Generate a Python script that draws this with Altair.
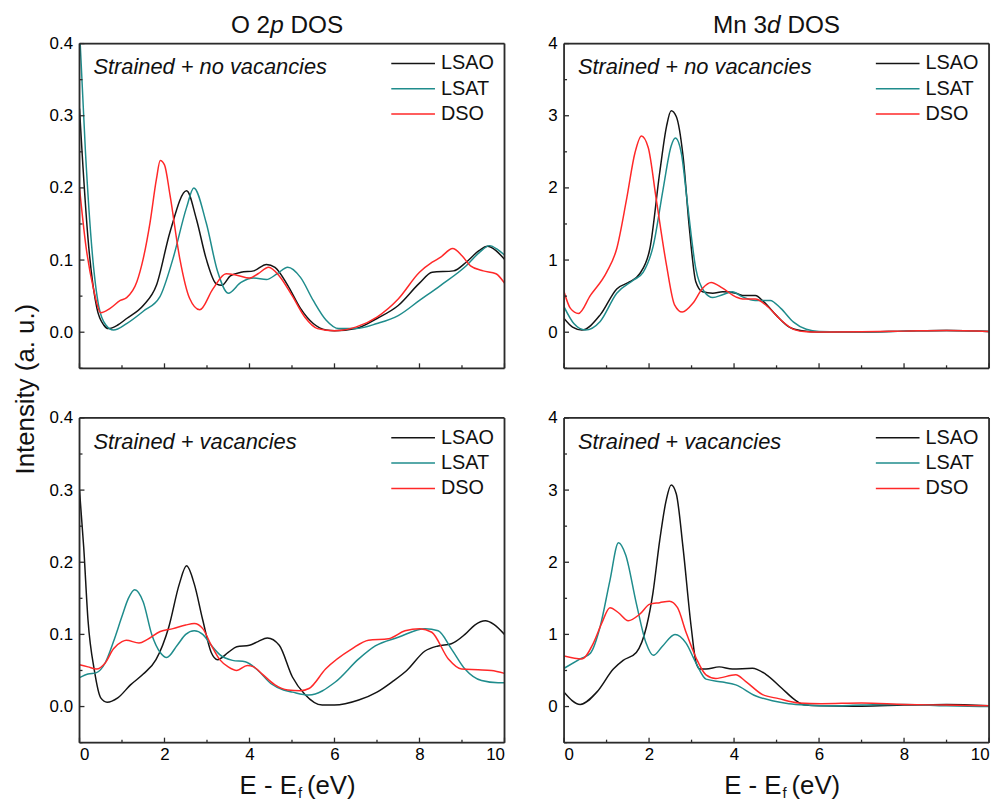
import altair as alt
import pandas as pd

SERIES = ["LSAO", "LSAT", "DSO"]
COLORS = ["#141414", "#1f8c8c", "#ff2828"]
FRAME = "#2b2b2b"
FONT = "Liberation Sans"

# ---------------- O 2p DOS, strained + no vacancies ----------------
o_nv_lsao_x = [0, 0.06, 0.2, 0.41, 0.57, 0.68, 0.9, 1.11, 1.5, 1.81, 2.13, 2.52, 2.75, 2.98, 3.22, 3.35,
               3.55, 3.8, 4.1, 4.4, 4.6, 4.9, 5.2, 5.5, 5.8, 6.0, 6.5, 7.0, 7.5, 8.0, 8.3, 8.8, 9.1, 9.4,
               9.6, 9.8, 10]
o_nv_lsao_y = [0.31, 0.25, 0.13, 0.033, 0.01, 0.005, 0.01, 0.019, 0.037, 0.065, 0.139, 0.196, 0.157, 0.102,
               0.067, 0.065, 0.078, 0.083, 0.085, 0.094, 0.09, 0.065, 0.033, 0.012, 0.003, 0.002, 0.005, 0.019,
               0.037, 0.068, 0.083, 0.085, 0.097, 0.113, 0.119, 0.113, 0.101]
o_nv_lsat_x = [0, 0.14, 0.3, 0.45, 0.62, 0.8, 1.11, 1.5, 1.89, 2.2, 2.52, 2.69, 2.98, 3.25, 3.5, 3.8, 4.1,
               4.4, 4.65, 4.9, 5.2, 5.5, 5.8, 6.1, 6.5, 7.0, 7.5, 8.0, 8.5, 9.1, 9.4, 9.65, 9.85, 10]
o_nv_lsat_y = [0.42, 0.25, 0.11, 0.037, 0.01, 0.003, 0.012, 0.029, 0.049, 0.102, 0.173, 0.2, 0.152, 0.084,
               0.054, 0.069, 0.075, 0.073, 0.081, 0.09, 0.076, 0.044, 0.017, 0.005, 0.005, 0.012, 0.023,
               0.044, 0.065, 0.092, 0.11, 0.12, 0.114, 0.107]
o_nv_dso_x = [0, 0.15, 0.33, 0.5, 0.72, 0.96, 1.11, 1.35, 1.5, 1.66, 1.81, 1.9, 2.0, 2.13, 2.36, 2.59, 2.83,
              3.14, 3.45, 3.7, 4.0, 4.2, 4.45, 4.7, 5.0, 5.3, 5.6, 6.0, 6.5, 7.0, 7.5, 8.0, 8.3, 8.5, 8.78,
              9.0, 9.2, 9.5, 9.8, 10]
o_nv_dso_y = [0.2, 0.12, 0.06, 0.027, 0.033, 0.044, 0.048, 0.07, 0.102, 0.152, 0.212, 0.238, 0.232, 0.19,
              0.102, 0.047, 0.031, 0.06, 0.081, 0.079, 0.075, 0.081, 0.09, 0.078, 0.051, 0.021, 0.005, 0.002,
              0.007, 0.021, 0.046, 0.083, 0.097, 0.104, 0.116, 0.106, 0.092, 0.085, 0.081, 0.068]

# ---------------- Mn 3d DOS, strained + no vacancies ----------------
m_nv_lsao_x = [0, 0.2, 0.42, 0.85, 1.24, 1.55, 1.78, 2.02, 2.25, 2.41, 2.52, 2.64, 2.8, 2.95, 3.1, 3.26,
               3.5, 3.73, 4.04, 4.2, 4.5, 4.7, 5.0, 5.3, 5.6, 6.0, 7.0, 8.0, 9.0, 10]
m_nv_lsao_y = [0.19, 0.07, 0.03, 0.24, 0.6, 0.7, 0.81, 1.16, 2.21, 2.85, 3.07, 2.99, 2.44, 1.43, 0.7, 0.56,
               0.54, 0.56, 0.54, 0.51, 0.51, 0.42, 0.23, 0.07, 0.02, 0.003, 0.003, 0.015, 0.025, 0.01]
m_nv_lsat_x = [0, 0.23, 0.5, 0.85, 1.24, 1.63, 1.86, 2.1, 2.33, 2.52, 2.62, 2.76, 2.91, 3.1, 3.3, 3.5, 3.73,
               3.96, 4.2, 4.5, 4.85, 5.1, 5.4, 5.7, 6.0, 7.0, 8.0, 9.0, 10]
m_nv_lsat_y = [0.35, 0.12, 0.03, 0.15, 0.54, 0.72, 0.83, 1.2, 1.98, 2.58, 2.69, 2.48, 1.75, 0.88, 0.56, 0.48,
               0.52, 0.56, 0.49, 0.44, 0.44, 0.33, 0.14, 0.04, 0.01, 0.003, 0.015, 0.025, 0.01]
m_nv_dso_x = [0, 0.15, 0.34, 0.62, 1.0, 1.24, 1.47, 1.67, 1.82, 1.98, 2.17, 2.41, 2.6, 2.78, 3.03, 3.26,
              3.46, 3.73, 4.04, 4.2, 4.5, 4.8, 5.1, 5.4, 5.7, 6.0, 7.0, 8.0, 9.0, 10]
m_nv_dso_y = [0.56, 0.33, 0.26, 0.51, 0.83, 1.16, 1.84, 2.49, 2.72, 2.56, 1.84, 0.93, 0.38, 0.28, 0.4, 0.61,
              0.69, 0.61, 0.49, 0.46, 0.46, 0.35, 0.17, 0.04, 0.005, 0.002, 0.005, 0.015, 0.025, 0.01]

# ---------------- O 2p DOS, strained + vacancies ----------------
o_v_lsao_x = [0, 0.1, 0.2, 0.35, 0.5, 0.65, 0.9, 1.2, 1.5, 1.8, 2.1, 2.35, 2.52, 2.7, 2.9, 3.1, 3.25, 3.5,
              3.7, 4.0, 4.2, 4.42, 4.7, 5.01, 5.3, 5.71, 6.0, 6.57, 7.0, 7.35, 7.7, 8.13, 8.44, 8.75, 9.07,
              9.3, 9.55, 9.75, 10]
o_v_lsao_y = [0.3, 0.22, 0.12, 0.05, 0.012, 0.006, 0.012, 0.03, 0.045, 0.065, 0.11, 0.17, 0.195, 0.17, 0.12,
              0.075, 0.065, 0.075, 0.083, 0.085, 0.09, 0.095, 0.085, 0.041, 0.017, 0.002, 0.002, 0.009, 0.02,
              0.034, 0.05, 0.077, 0.084, 0.087, 0.1, 0.113, 0.119, 0.114, 0.1]
o_v_lsat_x = [0, 0.2, 0.4, 0.6, 0.8, 1.0, 1.15, 1.3, 1.5, 1.7, 1.9, 2.05, 2.3, 2.5, 2.7, 2.9, 3.1, 3.3, 3.6,
              3.9, 4.2, 4.5, 4.8, 5.01, 5.4, 6.02, 6.57, 6.96, 7.5, 8.13, 8.44, 8.75, 9.07, 9.46, 9.85, 10]
o_v_lsat_y = [0.04, 0.045, 0.047, 0.06, 0.09, 0.125, 0.15, 0.162, 0.145, 0.1, 0.075, 0.068, 0.085, 0.1,
              0.105, 0.1, 0.085, 0.072, 0.064, 0.062, 0.05, 0.032, 0.023, 0.02, 0.016, 0.034, 0.066, 0.084,
              0.096, 0.108, 0.105, 0.08, 0.052, 0.036, 0.033, 0.033]
o_v_dso_x = [0, 0.2, 0.4, 0.6, 0.8, 1.0, 1.1, 1.4, 1.6, 1.9, 2.2, 2.5, 2.7, 2.9, 3.1, 3.3, 3.5, 3.7, 3.95,
             4.1, 4.3, 4.6, 4.9, 5.2, 5.4, 5.79, 6.41, 6.8, 7.27, 7.66, 8.01, 8.29, 8.68, 8.99, 9.38, 9.69, 10]
o_v_dso_y = [0.058, 0.055, 0.052, 0.06, 0.08, 0.09, 0.092, 0.088, 0.093, 0.104, 0.108, 0.113, 0.115, 0.108,
             0.085, 0.065, 0.055, 0.05, 0.057, 0.055, 0.045, 0.03, 0.023, 0.022, 0.025, 0.052, 0.08, 0.092,
             0.094, 0.105, 0.108, 0.103, 0.066, 0.052, 0.051, 0.05, 0.046]

# ---------------- Mn 3d DOS, strained + vacancies ----------------
m_v_lsao_x = [0, 0.38, 0.77, 1.16, 1.39, 1.7, 1.94, 2.09, 2.25, 2.4, 2.52, 2.64, 2.8, 2.99, 3.11, 3.2,
              3.34, 3.65, 3.96, 4.43, 4.74, 5.13, 5.44, 5.67, 6.06, 7.0, 8.0, 9.0, 10]
m_v_lsao_y = [0.2, 0.03, 0.2, 0.52, 0.64, 0.75, 1.11, 1.57, 2.3, 2.85, 3.07, 2.95, 2.2, 1.11, 0.6, 0.52,
              0.52, 0.55, 0.52, 0.53, 0.45, 0.25, 0.09, 0.02, 0.01, 0.005, 0.02, 0.03, 0.01]
m_v_lsat_x = [0, 0.38, 0.62, 0.85, 1.08, 1.28, 1.45, 1.7, 1.93, 2.1, 2.32, 2.61, 2.87, 3.1, 3.34, 3.73,
              4.04, 4.5, 4.9, 5.29, 5.75, 6.2, 7.0, 8.0, 9.0, 10]
m_v_lsat_y = [0.53, 0.66, 0.74, 1.11, 1.75, 2.27, 2.1, 1.43, 0.88, 0.71, 0.84, 1.0, 0.88, 0.61, 0.38, 0.34,
              0.3, 0.15, 0.08, 0.04, 0.02, 0.01, 0.02, 0.03, 0.01, 0.0]
m_v_dso_x = [0, 0.42, 0.69, 0.89, 1.08, 1.28, 1.51, 1.78, 2.02, 2.25, 2.48, 2.67, 2.87, 3.11, 3.34, 3.57,
             4.04, 4.27, 4.66, 5.05, 5.52, 6.06, 7.0, 8.0, 9.0, 10]
m_v_dso_y = [0.7, 0.66, 0.88, 1.16, 1.37, 1.3, 1.19, 1.28, 1.42, 1.44, 1.46, 1.37, 1.03, 0.67, 0.44, 0.39,
             0.44, 0.35, 0.17, 0.11, 0.05, 0.04, 0.05, 0.03, 0.02, 0.01]

# axis ticks / labels
X_MAJOR = [0, 2, 4, 6, 8, 10]
X_MINOR = [1, 3, 5, 7, 9]
O_Y_MAJOR = [0.0, 0.1, 0.2, 0.3, 0.4]
O_Y_MINOR = [-0.05, 0.05, 0.15, 0.25, 0.35]
M_Y_MAJOR = [0, 1, 2, 3, 4]
M_Y_MINOR = [-0.5, 0.5, 1.5, 2.5, 3.5]

W, H = 428, 327


def curves_df(pairs):
    rows = []
    for name, (xs, ys) in zip(SERIES, pairs):
        for x, y in zip(xs, ys):
            rows.append({"E": x, "I": y, "series": name})
    return pd.DataFrame(rows)


def text_layer(txt, x, y, **kw):
    return alt.Chart(pd.DataFrame({"t": [txt]})).mark_text(font=FONT, color="#111", **kw).encode(
        text="t:N", x=alt.value(x), y=alt.value(y))


def frame_side(x1, x2, y1, y2):
    return alt.Chart(pd.DataFrame({"f": [0]})).mark_rule(color=FRAME, strokeWidth=1.8).encode(
        x=alt.value(x1), x2=alt.value(x2), y=alt.value(y1), y2=alt.value(y2))


def rich_title(pieces, size, center):
    # pieces: (text, italic, gap_em_before, width_em)
    total = sum(g + w for _, _, g, w in pieces)
    pos = center - total * size / 2
    layers = []
    for txt, ital, g, w in pieces:
        pos += g * size
        layers.append(text_layer(txt, pos, -11, fontSize=size, align="left", baseline="alphabetic",
                                 fontStyle="italic" if ital else "normal"))
        pos += w * size
    return layers


def panel(pairs, ydom, ymajor, yminor, yfmt, annot, title_pieces, title_dx, show_x, show_ytitle):
    df = curves_df(pairs)
    xs = alt.Scale(domain=[0, 10], nice=False, zero=False)
    ys = alt.Scale(domain=ydom, nice=False, zero=False)
    xaxis = (alt.Axis(values=X_MAJOR, ticks=False, domain=False, grid=False, labelFontSize=17,
                      labelPadding=4, title=None) if show_x else None)
    yaxis = alt.Axis(values=ymajor, format=yfmt, ticks=False, domain=False, grid=False, labelFontSize=17,
                     labelPadding=7, title=None)
    color = alt.Color("series:N", scale=alt.Scale(domain=SERIES, range=COLORS), legend=None)

    lines = alt.Chart(df).mark_line(strokeWidth=1.5, interpolate="monotone", clip=True).encode(
        x=alt.X("E:Q", scale=xs, axis=xaxis),
        y=alt.Y("I:Q", scale=ys, axis=yaxis),
        color=color,
    )
    frame = [frame_side(0, W, 0, 0), frame_side(0, W, H, H), frame_side(0, 0, 0, H), frame_side(W, W, 0, H)]
    xt_major = alt.Chart(pd.DataFrame({"E": X_MAJOR})).mark_rule(color=FRAME, strokeWidth=1.3).encode(
        x=alt.X("E:Q", scale=xs, axis=xaxis), y=alt.value(H), y2=alt.value(H - 5))
    xt_minor = alt.Chart(pd.DataFrame({"E": X_MINOR})).mark_rule(color=FRAME, strokeWidth=1.3).encode(
        x=alt.X("E:Q", scale=xs, axis=xaxis), y=alt.value(H), y2=alt.value(H - 3))
    yt_major = alt.Chart(pd.DataFrame({"I": ymajor})).mark_rule(color=FRAME, strokeWidth=1.3).encode(
        y=alt.Y("I:Q", scale=ys, axis=None), x=alt.value(0), x2=alt.value(5))
    yt_minor = alt.Chart(pd.DataFrame({"I": yminor})).mark_rule(color=FRAME, strokeWidth=1.3).encode(
        y=alt.Y("I:Q", scale=ys, axis=None), x=alt.value(0), x2=alt.value(3))

    leg_df = pd.DataFrame({"series": SERIES})
    leg_y = alt.Y("series:N", scale=alt.Scale(type="point", domain=SERIES, range=[20, 71], padding=0),
                  axis=None)
    leg_lines = alt.Chart(leg_df).mark_rule(strokeWidth=1.5).encode(
        y=leg_y, x=alt.value(W - 114), x2=alt.value(W - 70), color=color)
    leg_text = alt.Chart(leg_df).mark_text(font=FONT, fontSize=20, align="left", baseline="middle",
                                           color="#111").encode(
        y=leg_y, x=alt.value(W - 64), text="series:N")

    layers = [lines] + frame + [xt_major, xt_minor, yt_major, yt_minor, leg_lines, leg_text,
              text_layer(annot, 14, 31, fontSize=22, fontStyle="italic", align="left",
                         baseline="alphabetic")]
    if title_pieces:
        layers += rich_title(title_pieces, 24.5, W / 2 + title_dx)
    if show_x:
        layers += [
            text_layer("E - E", W / 2 + 5, H + 52, fontSize=26, align="right", baseline="alphabetic"),
            text_layer("f", W / 2 + 6, H + 56, fontSize=15, align="left", baseline="alphabetic"),
            text_layer("(eV)", W / 2 + 15, H + 52, fontSize=26, align="left", baseline="alphabetic"),
        ]
    if show_ytitle:
        layers.append(text_layer("Intensity (a. u.)", -54, H + 21, fontSize=26, angle=270,
                                 align="center", baseline="middle"))
    return alt.layer(*layers).resolve_scale(y="independent").properties(width=W, height=H)


o_title = [("O 2", False, 0, 1.612), ("p", True, 0, 0.556), ("DOS", False, 0.278, 2.167)]
m_title = [("Mn 3", False, 0, 2.223), ("d", True, 0, 0.556), ("DOS", False, 0.278, 2.167)]

tl = panel([(o_nv_lsao_x, o_nv_lsao_y), (o_nv_lsat_x, o_nv_lsat_y), (o_nv_dso_x, o_nv_dso_y)],
           [-0.05, 0.4], O_Y_MAJOR, O_Y_MINOR, ".1f", "Strained + no vacancies", o_title, -5, False, True)
tr = panel([(m_nv_lsao_x, m_nv_lsao_y), (m_nv_lsat_x, m_nv_lsat_y), (m_nv_dso_x, m_nv_dso_y)],
           [-0.5, 4], M_Y_MAJOR, M_Y_MINOR, "d", "Strained + no vacancies", m_title, 0, False, False)
bl = panel([(o_v_lsao_x, o_v_lsao_y), (o_v_lsat_x, o_v_lsat_y), (o_v_dso_x, o_v_dso_y)],
           [-0.05, 0.4], O_Y_MAJOR, O_Y_MINOR, ".1f", "Strained + vacancies", None, 0, True, False)
br = panel([(m_v_lsao_x, m_v_lsao_y), (m_v_lsat_x, m_v_lsat_y), (m_v_dso_x, m_v_dso_y)],
           [-0.5, 4], M_Y_MAJOR, M_Y_MINOR, "d", "Strained + vacancies", None, 0, True, False)

chart = alt.concat(tl, tr, bl, br, columns=2, spacing={"row": 50, "column": 60}, bounds="flush").properties(
    padding={"left": 4, "top": 1, "right": 5, "bottom": 5}
).configure_view(
    strokeWidth=0
).configure_axis(
    labelFont=FONT, labelColor="#222"
).configure(background="white")

chart.save("out.html", embed_options={"renderer": "svg", "actions": False})
